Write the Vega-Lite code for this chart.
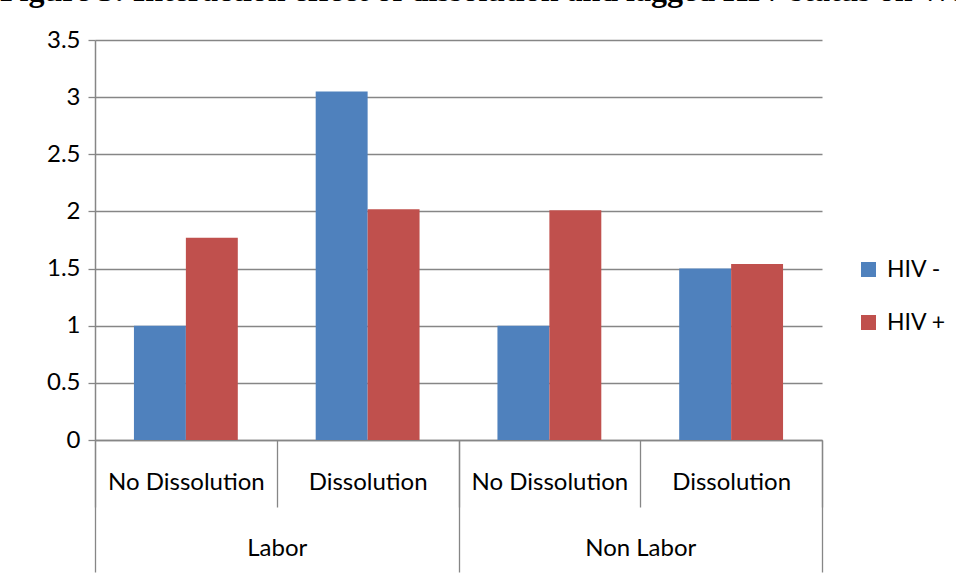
{
  "$schema": "https://vega.github.io/schema/vega-lite/v6.json",
  "width": 727,
  "height": 400,
  "autosize": "none",
  "padding": {"left": 95, "top": 40, "right": 134, "bottom": 141},
  "background": "white",
  "title": {
    "text": "Figure 3: Interaction effect of dissolution and lagged HIV status on Work",
    "anchor": "start",
    "frame": "group",
    "font": "Liberation Serif",
    "fontWeight": "bold",
    "fontSize": 32,
    "color": "black",
    "baseline": "alphabetic",
    "dx": -95,
    "dy": 5,
    "offset": 0
  },
  "data": {
    "values": [
      {"group": "Labor", "sub": "No Dissolution", "cell": "Labor|No Dissolution", "status": "HIV -", "value": 1.0},
      {"group": "Labor", "sub": "No Dissolution", "cell": "Labor|No Dissolution", "status": "HIV +", "value": 1.77},
      {"group": "Labor", "sub": "Dissolution", "cell": "Labor|Dissolution", "status": "HIV -", "value": 3.05},
      {"group": "Labor", "sub": "Dissolution", "cell": "Labor|Dissolution", "status": "HIV +", "value": 2.02},
      {"group": "Non Labor", "sub": "No Dissolution", "cell": "Non Labor|No Dissolution", "status": "HIV -", "value": 1.0},
      {"group": "Non Labor", "sub": "No Dissolution", "cell": "Non Labor|No Dissolution", "status": "HIV +", "value": 2.01},
      {"group": "Non Labor", "sub": "Dissolution", "cell": "Non Labor|Dissolution", "status": "HIV -", "value": 1.5},
      {"group": "Non Labor", "sub": "Dissolution", "cell": "Non Labor|Dissolution", "status": "HIV +", "value": 1.54}
    ]
  },
  "layer": [
    {
      "mark": {"type": "bar"},
      "encoding": {
        "x": {
          "field": "cell",
          "type": "nominal",
          "sort": ["Labor|No Dissolution", "Labor|Dissolution", "Non Labor|No Dissolution", "Non Labor|Dissolution"],
          "scale": {"paddingInner": 0, "paddingOuter": 0},
          "axis": {
            "title": null,
            "labelExpr": "split(datum.label, '|')[1]",
            "labelAngle": 0,
            "labelOverlap": false,
            "labelLimit": 0,
            "labelFont": "Lato",
            "labelFontSize": 24,
            "labelColor": "black",
            "labelPadding": -37,
            "labelBaseline": "top",
            "tickBand": "extent",
            "tickSize": 67,
            "tickColor": "#868686",
            "tickWidth": 1.3,
            "domainColor": "#868686",
            "domainWidth": 1.5,
            "grid": false
          }
        },
        "xOffset": {
          "field": "status",
          "type": "nominal",
          "sort": ["HIV -", "HIV +"],
          "scale": {"paddingInner": 0, "paddingOuter": 0.75}
        },
        "y": {
          "field": "value",
          "type": "quantitative",
          "scale": {"domain": [0, 3.5], "nice": false},
          "axis": {
            "title": null,
            "values": [0, 0.5, 1, 1.5, 2, 2.5, 3, 3.5],
            "format": "~g",
            "grid": true,
            "gridColor": "#868686",
            "gridWidth": 1.3,
            "tickSize": 7,
            "tickColor": "#868686",
            "tickWidth": 1.3,
            "domainColor": "#868686",
            "domainWidth": 1.5,
            "labelFont": "Lato",
            "labelFontSize": 24,
            "labelColor": "black",
            "labelPadding": 8
          }
        },
        "color": {
          "field": "status",
          "type": "nominal",
          "scale": {"domain": ["HIV -", "HIV +"], "range": ["#4F81BD", "#C0504D"]},
          "legend": {
            "title": null,
            "orient": "none",
            "legendX": 762,
            "legendY": 218,
            "padding": 0,
            "symbolType": "square",
            "symbolSize": 225,
            "symbolStrokeWidth": 0,
            "labelFont": "Lato",
            "labelFontSize": 23,
            "labelColor": "black",
            "labelOffset": 7,
            "rowPadding": 29
          }
        }
      }
    },
    {
      "mark": {"type": "point", "opacity": 0},
      "encoding": {
        "x": {
          "field": "group",
          "type": "nominal",
          "sort": ["Labor", "Non Labor"],
          "scale": {"paddingInner": 0, "paddingOuter": 0},
          "axis": {
            "orient": "bottom",
            "title": null,
            "domain": false,
            "labelAngle": 0,
            "labelFont": "Lato",
            "labelFontSize": 24,
            "labelColor": "black",
            "labelPadding": -36,
            "labelBaseline": "top",
            "tickBand": "extent",
            "tickSize": 132,
            "tickColor": "#868686",
            "tickWidth": 1.3,
            "grid": false
          }
        }
      }
    }
  ],
  "resolve": {"scale": {"x": "independent"}, "axis": {"x": "independent"}},
  "config": {
    "font": "Lato",
    "view": {"stroke": null}
  }
}
